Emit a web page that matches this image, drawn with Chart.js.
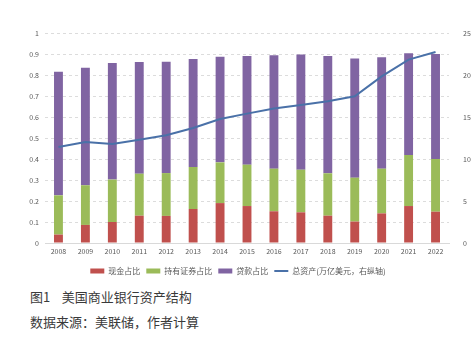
<!DOCTYPE html>
<html>
<head>
<meta charset="utf-8">
<script src="https://cdn.jsdelivr.net/npm/chart.js@4"></script>
<style>
body{margin:0;background:#fff;width:476px;height:353px;overflow:hidden;}
#wrap{position:relative;width:476px;height:287px;}
.cap{position:absolute;left:30px;font-family:"Noto Sans CJK SC";font-size:13px;color:#3a3a3a;}
</style>
</head>
<body>
<div id="wrap"><canvas id="mycanvas"></canvas></div>
<div class="cap" style="top:287px">图1&nbsp;&nbsp;&nbsp;&nbsp;美国商业银行资产结构</div>
<div class="cap" style="top:312px">数据来源：美联储，作者计算</div>
<script>
var years=["2008","2009","2010","2011","2012","2013","2014","2015","2016","2017","2018","2019","2020","2021","2022"];
var cash=[0.04,0.086,0.1,0.13,0.129,0.162,0.19,0.176,0.151,0.146,0.13,0.102,0.141,0.176,0.149];
var securities=[0.187,0.189,0.202,0.2,0.204,0.2,0.194,0.197,0.203,0.203,0.202,0.209,0.213,0.243,0.251];
var loans=[0.589,0.56,0.555,0.532,0.53,0.514,0.503,0.517,0.54,0.549,0.558,0.567,0.53,0.484,0.5];
var totalAssets=[11.43,12.02,11.79,12.3,12.82,13.69,14.76,15.4,16.0,16.43,16.87,17.46,19.84,21.83,22.74];

var tickFont={family:"Noto Sans CJK SC",size:7};

var ctx=document.getElementById("mycanvas");
var chart=new Chart(ctx,{
	type:'bar',
	data:{
		labels:years,
		datasets:[
		{label:"现金占比",data:cash,backgroundColor:"#c0504d",yAxisID:"y",stack:"s",pointStyle:"rect",order:2},
		{label:"持有证券占比",data:securities,backgroundColor:"#9bbb59",yAxisID:"y",stack:"s",pointStyle:"rect",order:2},
		{label:"贷款占比",data:loans,backgroundColor:"#8064a2",yAxisID:"y",stack:"s",pointStyle:"rect",order:2},
		{type:'line',label:"总资产(万亿美元，右纵轴)",data:totalAssets,borderColor:"#4a71a8",backgroundColor:"#4a71a8",
			borderWidth:2,pointRadius:0,tension:0,fill:false,yAxisID:"y1",pointStyle:"line",order:1}
		]
	},
	options:{
		responsive:true,
		maintainAspectRatio:false,
		animation:false,
		layout:{padding:{top:33,left:0,right:0,bottom:2}},
		datasets:{bar:{barPercentage:0.33,categoryPercentage:1}},
		plugins:{
			legend:{
				position:'bottom',
				labels:{usePointStyle:true,pointStyleWidth:14,boxHeight:5,padding:6,color:"#595959",
					font:{family:"Noto Sans CJK SC",size:8},
					sort:function(a,b){return a.datasetIndex-b.datasetIndex;}}
			},
			tooltip:{enabled:false}
		},
		scales:{
			x:{
				stacked:true,
				grid:{display:false,drawTicks:false},
				border:{color:"#d9d9d9"},
				ticks:{color:"#595959",font:tickFont,padding:4,maxRotation:0},
				afterFit:function(s){s.height=18;}
			},
			y:{
				stacked:true,
				position:'left',
				min:0,max:1,
				grid:{color:"#dcdcdc",drawTicks:false},
				border:{display:false,dash:[3,3]},
				ticks:{stepSize:0.1,color:"#595959",font:tickFont,padding:6,
					callback:function(v){return String(Math.round(v*10)/10);}},
				afterFit:function(s){s.width=45;}
			},
			y1:{
				position:'right',
				min:0,max:25,
				grid:{display:false},
				border:{display:false},
				ticks:{stepSize:5,color:"#595959",font:tickFont,padding:6},
				afterFit:function(s){s.width=27;}
			}
		}
	}
});
</script>
</body>
</html>
